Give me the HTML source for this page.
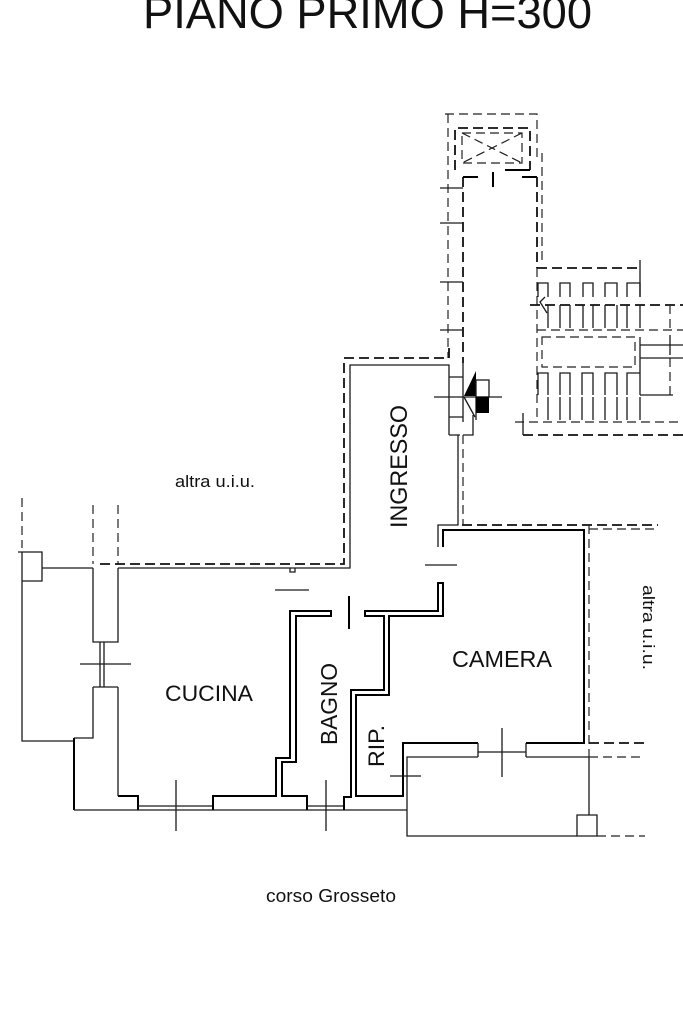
<!DOCTYPE html>
<html><head><meta charset="utf-8">
<style>
html,body{margin:0;padding:0;background:#fff;}
svg{display:block;}
.t{stroke:#1a1a1a;stroke-width:1.3;fill:none;}
.k{stroke:#000;stroke-width:2;fill:none;}
.d{stroke:#111;stroke-width:1.8;fill:none;stroke-dasharray:10 5;}
.dt{stroke:#222;stroke-width:1.2;fill:none;stroke-dasharray:9 5;}
text{font-family:"Liberation Sans",Arial,sans-serif;fill:#111;}
</style></head><body>
<svg width="683" height="1025" viewBox="0 0 683 1025">
<text x="143" y="28" font-size="45" textLength="449" lengthAdjust="spacingAndGlyphs">PIANO PRIMO H=300</text>

<!-- left area -->
<path class="dt" d="M22 498 V548"/>
<path class="t" d="M18 552 H42 V581 H22 V552 M22 581 V741 H74 M42 568 H93"/>
<path class="dt" d="M93 505 V564 M118 505 V564"/>
<path class="d" d="M100 564 H344 V358 H449 V345"/>
<path class="t" d="M93 568 V642 H118 V568 M118 568 H350 V365 H449 V435"/>
<path class="t" d="M290 568 V572 H295 V568"/>
<path class="t" d="M100 642 V687 M104 642 V687 M80 664 H131"/>
<path class="t" d="M93 687 H118 M93 687 V738 H74 M118 687 V796"/>
<path class="k" d="M74 738 V810 M118 796 H138 V810"/>
<path class="t" d="M74 810 H407"/>
<path class="t" d="M138 806 H213 M176 780 V831"/>
<path class="k" d="M213 810 V796 H276 V758 H290 V611 H331 V616 H296 V762 H282 V796 H307 V810"/>
<path class="t" d="M307 806 H344 M326 780 V831"/>
<path class="k" d="M344 810 V797 H351 V690 H384 V616 H365 V611 H438 V583 H443 V616 H389 V695 H356 V796 H403 V743 H478"/>
<path class="t" d="M478 743 V757 M526 743 V757 M478 752 H526 M478 757 H407 V836 H577 M526 757 H589"/>
<path class="k" d="M526 743 H584 V530 H443 V547"/>
<path class="t" d="M438 547 V525 H458 V435"/>
<path class="t" d="M502 728 V777"/>
<!-- doors -->
<path class="t" d="M425 565 H457 M275 590 H309 M390 776 H421"/>
<path class="k" d="M349 596 V629"/>

<!-- right dashed -->
<path class="d" d="M462 525 H658"/>
<path class="dt" d="M589 529 H658"/>
<path class="dt" d="M589 525 V757"/>
<path class="t" d="M589 757 V815"/>
<path class="d" d="M589 743 H645"/>
<path class="dt" d="M589 757 H645"/>
<path class="t" d="M577 815 H597 V836 H577 Z"/>
<path class="dt" d="M597 836 H645"/>
<path class="dt" d="M463 435 V525"/>

<!-- entrance box -->
<path class="t" d="M449 377 H463 M449 417 H463 M449 435 H460 M463 435 H473 V415 M463 363 V422 M434 397 H502 M476 396 V420"/>
<polygon points="476,371 464,396 476,396" fill="#000"/>
<rect x="476" y="380" width="13" height="17" class="t"/>
<rect x="476" y="397" width="13" height="16" fill="#000"/>
<path class="t" d="M464 397 L475 417"/>

<!-- vertical corridor -->
<path class="dt" d="M448 114 V358"/>
<path class="d" d="M463 177 V363"/>
<path class="t" d="M440 188 H463 M440 223 H463 M440 282 H463 M440 330 H463"/>
<path class="dt" d="M445 114 H537 V160"/>
<path class="d" d="M455 170 V128 H530 V170"/>
<rect x="462" y="133" width="60" height="30" class="dt"/>
<path class="dt" d="M462 133 L522 163 M522 133 L462 163"/>
<path class="k" d="M463 177 H478 M493 172 V187 M505 170 H530 M522 177 H537"/>
<path class="d" d="M537 177 V268"/>
<path class="dt" d="M542 153 V260"/>

<!-- stairs -->
<path class="dt" d="M537 268 V422"/>
<path class="d" d="M537 268 H640"/>
<path class="t" d="M640 260 V297"/>
<path class="t" d="M538 297 V283 H548 V297 M560 297 V283 H570 V297 M583 297 V283 H593 V297 M605 297 V283 H617 V297 M627 297 V283 H640 V297"/>
<path class="d" d="M530 305 H683"/>
<path class="t" d="M548 305 V328 M560 305 V328 M570 305 V328 M583 305 V328 M593 305 V328 M605 305 V328 M617 305 V328 M627 305 V328 M640 305 V328"/>
<path class="t" d="M545 297 L540 302 L547 313"/>
<path class="dt" d="M537 330 H683"/>
<rect x="542" y="337" width="93" height="30" class="dt"/>
<path class="t" d="M640 337 V395 M640 345 H683 M670 335 V355 M640 358 H683 M640 395 H673"/>
<path class="dt" d="M670 305 V330 M670 358 V395"/>
<path class="t" d="M538 395 V373 H548 V395 M560 395 V373 H570 V395 M582 395 V373 H593 V395 M605 395 V373 H617 V395 M627 395 V373 H640"/>
<path class="t" d="M548 397 V420 M560 397 V420 M570 397 V420 M582 397 V420 M593 397 V420 M605 397 V420 M617 397 V420 M627 397 V420 M640 397 V420"/>
<path class="dt" d="M515 422 H683"/>
<path class="t" d="M523 413 V435"/>
<path class="d" d="M523 435 H683"/>

<!-- labels -->
<text x="175" y="487" font-size="17" textLength="80" lengthAdjust="spacingAndGlyphs">altra u.i.u.</text>
<text transform="translate(407,528) rotate(-90)" font-size="24" textLength="123" lengthAdjust="spacingAndGlyphs">INGRESSO</text>
<text transform="translate(337,745) rotate(-90)" font-size="23" textLength="82" lengthAdjust="spacingAndGlyphs">BAGNO</text>
<text transform="translate(384,767) rotate(-90)" font-size="22" textLength="42" lengthAdjust="spacingAndGlyphs">RIP.</text>
<text x="165" y="701" font-size="22.5" textLength="88" lengthAdjust="spacingAndGlyphs">CUCINA</text>
<text x="452" y="667" font-size="23" textLength="100" lengthAdjust="spacingAndGlyphs">CAMERA</text>
<text transform="translate(643,585) rotate(90)" font-size="17" textLength="85" lengthAdjust="spacingAndGlyphs">altra u.i.u.</text>
<text x="266" y="902" font-size="18" textLength="130" lengthAdjust="spacingAndGlyphs">corso Grosseto</text>
</svg>
</body></html>
